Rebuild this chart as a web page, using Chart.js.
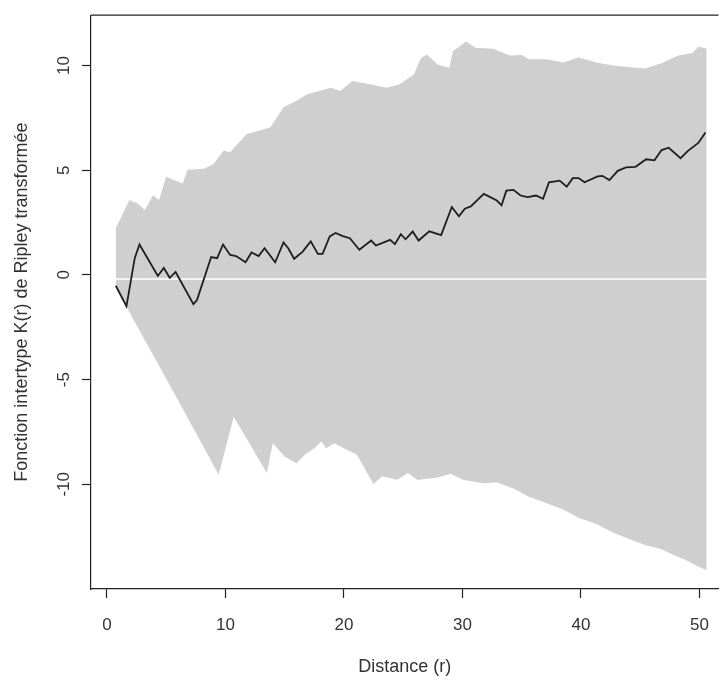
<!DOCTYPE html>
<html lang="fr">
<head>
    <meta charset="UTF-8">
    <title>Fonction intertype K(r) de Ripley</title>
    <script src="https://cdn.jsdelivr.net/npm/chart.js"></script>
    <style>
        body {
            margin: 0;
            background: #ffffff;
        }
        #chart {
            display: block;
        }
    </style>
</head>
<body>
    <canvas id="chart" width="726" height="680"></canvas>

    <script>
        // valeurs
        const lineX = [0.75, 1.65, 2.35, 2.75, 4.3, 4.8, 5.3, 5.8, 7.3, 7.6, 8.8, 9.3, 9.8, 10.4, 10.9,
            11.7, 12.2, 12.8, 13.3, 14.2, 14.9, 15.3, 15.8, 16.5, 17.2, 17.8, 18.2, 18.8, 19.3, 19.9,
            20.5, 21.3, 22.3, 22.7, 23.9, 24.3, 24.8, 25.2, 25.8, 26.3, 27.2, 28.2, 29.1, 29.7, 30.2,
            30.7, 31.8, 32.9, 33.3, 33.7, 34.3, 34.9, 35.5, 36.2, 36.8, 37.3, 38.2, 38.8, 39.3, 39.8,
            40.3, 41.4, 41.8, 42.4, 43.1, 43.8, 44.6, 45.5, 46.2, 46.8, 47.4, 48.4, 49.0, 49.9, 50.5];
        const lineY = [-0.52, -1.5, 0.8, 1.45, -0.05, 0.33, -0.14, 0.14, -1.4, -1.2, 0.85, 0.8, 1.45, 0.95, 0.9,
            0.6, 1.07, 0.9, 1.27, 0.6, 1.55, 1.27, 0.77, 1.1, 1.6, 1.0, 1.0, 1.84, 2.0, 1.85,
            1.75, 1.2, 1.64, 1.4, 1.67, 1.47, 1.94, 1.7, 2.07, 1.64, 2.08, 1.9, 3.24, 2.8, 3.16,
            3.27, 3.87, 3.55, 3.32, 4.02, 4.06, 3.79, 3.71, 3.79, 3.63, 4.42, 4.5, 4.21, 4.62, 4.62,
            4.42, 4.7, 4.73, 4.53, 4.97, 5.13, 5.16, 5.52, 5.47, 5.96, 6.07, 5.57, 5.91, 6.3, 6.8];

        const upX = [0.75, 0.95, 1.9, 2.6, 3.2, 3.9, 4.4, 5.0, 5.7, 6.4, 6.8, 8.2, 9.0, 9.85, 10.4,
            11.8, 12.9, 13.8, 14.9, 16.0, 16.9, 18.9, 19.7, 20.7, 22.2, 23.6, 24.7, 25.9, 26.5, 27.0,
            27.9, 28.9, 29.2, 30.3, 31.1, 32.6, 34.0, 35.0, 35.6, 37.1, 38.5, 39.8, 41.3, 42.7, 44.0,
            45.4, 46.8, 48.2, 49.4, 49.9, 50.6];
        const upY = [2.2, 2.46, 3.57, 3.41, 3.1, 3.8, 3.57, 4.68, 4.52, 4.36, 5.02, 5.07, 5.3, 5.94, 5.86,
            6.73, 6.89, 7.05, 8.0, 8.31, 8.63, 8.94, 8.78, 9.26, 9.1, 8.94, 9.1, 9.57, 10.36, 10.52,
            10.05, 9.89, 10.68, 11.15, 10.84, 10.8, 10.47, 10.5, 10.3, 10.3, 10.14, 10.38, 10.14, 10.0, 9.93,
            9.85, 10.1, 10.47, 10.6, 10.9, 10.8];

        const lowX = [0.75, 2.2, 5.0, 7.76, 9.43, 10.7, 13.5, 14.0, 15.0, 16.0, 16.7, 17.5, 18.1, 18.5, 19.2,
            20.0, 21.1, 22.2, 22.5, 23.2, 24.5, 25.4, 26.2, 27.9, 29.0, 30.1, 31.8, 32.9, 34.3, 35.6,
            37.1, 38.5, 39.8, 41.3, 42.7, 44.0, 45.4, 46.8, 47.9, 48.8, 49.8, 50.6];
        const lowY = [-0.5, -2.1, -4.95, -7.8, -9.54, -6.78, -9.46, -8.04, -8.67, -8.99, -8.59, -8.28, -7.96, -8.28, -8.04,
            -8.28, -8.59, -9.7, -10.0, -9.62, -9.78, -9.46, -9.8, -9.67, -9.5, -9.8, -9.95, -9.9, -10.2, -10.6,
            -10.9, -11.2, -11.6, -11.9, -12.3, -12.6, -12.9, -13.1, -13.4, -13.6, -13.9, -14.1];

        const refX = [0.75, 50.6];
        const refY = [-0.2, -0.2];

        const xTicks = [0, 10, 20, 30, 40, 50];
        const yTicks = [-10, -5, 0, 5, 10];

        const toPoints = (xs, ys) => xs.map((x, i) => ({ x: x, y: ys[i] }));

        const textColor = '#333';
        const fontFamily = '"Liberation Sans", Arial, sans-serif';

        // cadre du graphique (haut)
        const boxPlugin = {
            id: 'box',
            afterDraw(chart) {
                const a = chart.chartArea;
                const ctx = chart.ctx;
                ctx.save();
                ctx.strokeStyle = '#222';
                ctx.lineWidth = 1.2;
                ctx.beginPath();
                ctx.moveTo(a.left, a.top);
                ctx.lineTo(a.right, a.top);
                ctx.stroke();
                ctx.restore();
            }
        };

        new Chart(document.getElementById('chart'), {
            type: 'scatter',
            data: {
                datasets: [
                    {
                        label: 'K(r) observée',
                        data: toPoints(lineX, lineY),
                        showLine: true,
                        borderColor: '#1e1e1e',
                        borderWidth: 1.8,
                        pointRadius: 0,
                        tension: 0,
                        order: 0
                    },
                    {
                        label: 'théorique',
                        data: toPoints(refX, refY),
                        showLine: true,
                        borderColor: '#ffffff',
                        borderWidth: 1.5,
                        pointRadius: 0,
                        order: 1
                    },
                    {
                        label: 'enveloppe sup',
                        data: toPoints(upX, upY),
                        showLine: true,
                        borderWidth: 0,
                        borderColor: 'rgba(0,0,0,0)',
                        backgroundColor: '#cfcfcf',
                        pointRadius: 0,
                        fill: 3,
                        order: 2
                    },
                    {
                        label: 'enveloppe inf',
                        data: toPoints(lowX, lowY),
                        showLine: true,
                        borderWidth: 0,
                        borderColor: 'rgba(0,0,0,0)',
                        pointRadius: 0,
                        fill: false,
                        order: 3
                    }
                ]
            },
            options: {
                responsive: false,
                animation: false,
                layout: {
                    padding: { top: 10, right: 1, left: 0, bottom: 0 }
                },
                plugins: {
                    legend: { display: false },
                    tooltip: { enabled: false }
                },
                scales: {
                    x: {
                        type: 'linear',
                        min: -1.34,
                        max: 51.6,
                        afterBuildTicks: s => { s.ticks = xTicks.map(v => ({ value: v })); },
                        afterFit: s => { s.height = 91; },
                        grid: {
                            drawOnChartArea: false,
                            tickLength: 9,
                            tickColor: '#222',
                            tickWidth: 1.2
                        },
                        border: { display: true, color: '#222', width: 1.2 },
                        ticks: {
                            color: textColor,
                            padding: 17,
                            maxRotation: 0,
                            font: { family: fontFamily, size: 17 }
                        },
                        title: {
                            display: true,
                            text: 'Distance (r)',
                            color: textColor,
                            padding: { top: 0, bottom: 2 },
                            font: { family: fontFamily, size: 18 }
                        }
                    },
                    y: {
                        type: 'linear',
                        min: -15,
                        max: 12.4,
                        afterBuildTicks: s => { s.ticks = yTicks.map(v => ({ value: v })); },
                        afterFit: s => { s.width = 91; },
                        grid: {
                            drawOnChartArea: false,
                            tickLength: 9,
                            tickColor: '#222',
                            tickWidth: 1.2
                        },
                        border: { display: true, color: '#222', width: 1.2 },
                        ticks: {
                            color: textColor,
                            padding: 5,
                            minRotation: 90,
                            maxRotation: 90,
                            crossAlign: 'center',
                            font: { family: fontFamily, size: 17 }
                        },
                        title: {
                            display: true,
                            text: 'Fonction intertype K(r) de Ripley transformée',
                            color: textColor,
                            padding: { top: 11, bottom: 0 },
                            font: { family: fontFamily, size: 18 }
                        }
                    }
                }
            },
            plugins: [boxPlugin]
        });
    </script>
</body>
</html>
